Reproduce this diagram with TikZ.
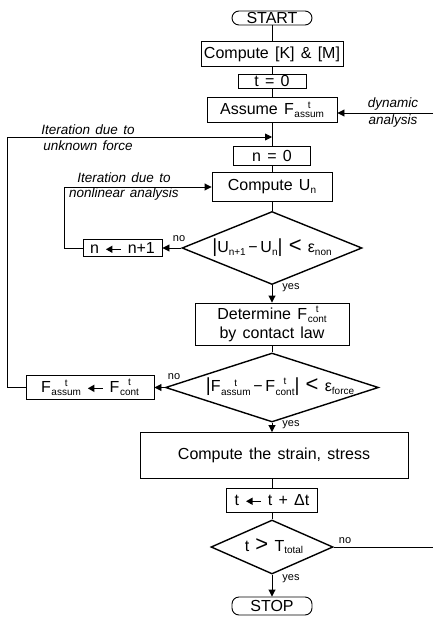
\documentclass[tikz,border=0pt]{standalone}
\usepackage{fontspec}
\setmainfont{Liberation Sans}[WordSpace=1.4]
\usetikzlibrary{arrows.meta,shapes.geometric}
\newcommand\mainsz{\fontsize{16}{19}\selectfont}
\newcommand\subsz{\fontsize{10}{10}\selectfont}
\newcommand\lblsz{\fontsize{13.5}{16}\selectfont\itshape}
\newcommand\sbx[1]{\raisebox{-2.7pt}{\subsz #1}}
\newcommand\Fst[1]{F\kern0.6pt\raisebox{-3.2pt}{\shortstack{\subsz t\\[0.6pt]\subsz #1}}}
\newcommand\bigrel[1]{{\fontsize{22}{22}\selectfont #1}}
\newcommand\vbar{{\fontsize{19}{19}\selectfont |}}
\newcommand\larrow{\tikz[baseline={(0pt,-4.2pt)}]\draw[line width=1.3pt,-{Triangle[length=6.5pt,width=7pt]}] (15pt,0pt) -- (0pt,0pt);}
\tikzset{
  box/.style={draw, line width=0.9pt, rectangle, inner sep=0pt, align=center, font=\mainsz},
  term/.style={draw, line width=0.9pt, rectangle, rounded corners=7pt, inner sep=0pt, font=\mainsz},
  dia/.style={draw, diamond, line width=1.4pt, inner sep=0pt},
  diatext/.style={inner sep=0pt, font=\mainsz},
  conn/.style={line width=0.9pt},
  arr/.style={conn, -{Triangle[length=7pt,width=7pt]}},
  lab/.style={font=\lblsz, align=center, inner sep=0pt},
  yn/.style={font=\fontsize{11}{12}\selectfont, inner sep=0pt}
}
\begin{document}
\begin{tikzpicture}[x=1pt,y=-1pt]
\fill[white] (0,0) rectangle (433,617);
\useasboundingbox (0,0) rectangle (433,617);

% main column
\node[term, minimum width=80pt, minimum height=14pt] (start) at (272,18) {START};
\node[box, minimum width=142pt, minimum height=25pt] (km) at (272,54) {Compute [K] \& [M]};
\node[box, minimum width=68pt, minimum height=14pt] (t0) at (272,81) {t = 0};
\node[box, minimum width=130pt, minimum height=25pt] (assume) at (272,110) {Assume \Fst{assum}};
\node[box, minimum width=77pt, minimum height=19pt] (n0) at (272,156) {n = 0};
\node[box, minimum width=120pt, minimum height=29pt] (cu) at (272,187) {Compute U\sbx{n}};
\node[dia, minimum width=180pt, minimum height=73pt] (d1) at (272,248) {};
\node[diatext] (d1t) at (272,248) {\vbar U\sbx{n+1}\,−\,U\sbx{n}\vbar\ \bigrel{<}\ ε\sbx{non}};
\node[box, minimum width=79pt, minimum height=17pt] (nn) at (122.5,248) {n \larrow\ n+1};
\node[box, minimum width=154pt, minimum height=42pt] (det) at (272,324) {Determine \Fst{cont}\\[0pt]by contact law};
\node[dia, minimum width=213pt, minimum height=69pt] (d2) at (272,387.5) {};
\node[diatext] (d2t) at (280,387) {\vbar\Fst{assum}\,−\,\Fst{cont}\vbar\ \bigrel{<} ε\sbx{force}};
\node[box, minimum width=128pt, minimum height=24pt] (fa) at (90,387.5) {\Fst{assum} \larrow\ \Fst{cont}};
\node[box, minimum width=268pt, minimum height=46pt] (strain) at (274,455.5) {Compute the strain, stress};
\node[box, minimum width=91pt, minimum height=24pt] (tt) at (272,500) {t \larrow\ t + Δt};
\node[dia, minimum width=122pt, minimum height=54pt] (d3) at (272,547) {};
\node[diatext] (d3t) at (274,546) {t \bigrel{>} T\sbx{total}};
\node[term, minimum width=80pt, minimum height=18pt] (stop) at (272,606) {STOP};

% labels
\node[lab] (lunk) at (88,138) {Iteration due to\\unknown force};
\node[lab] (lnon) at (124,187) {Iteration due to\\[-1pt]nonlinear analysis};
\node[lab] (ldyn) at (393,113) {dynamic\\[1pt]analysis};
\node[yn] (no1) at (179,239) {no};
\node[yn] (no2) at (174,377) {no};
\node[yn] (no3) at (345,541) {no};
\node[yn] (yes1) at (291,288) {yes};
\node[yn] (yes2) at (291,425) {yes};
\node[yn] (yes3) at (291,579) {yes};

% free ends
\coordinate (dynR) at (433,113);
\coordinate (noR) at (433,547);
\coordinate (junk) at (272,137);

% connectors
\draw[conn] (start) -- (km);
\draw[conn] (km) -- (t0);
\draw[conn] (t0) -- (assume);
\draw[conn] (assume) -- (n0);
\draw[conn] (n0) -- (cu);
\draw[conn] (cu) -- (d1);
\draw[arr] (d1) -- (det);
\draw[conn] (det) -- (d2);
\draw[arr] (d2.south) -- (d2.south |- strain.north);
\draw[conn] (strain.south -| tt.north) -- (tt);
\draw[conn] (tt) -- (d3);
\draw[arr] (d3) -- (stop);
\draw[arr] (d1.west) -- (nn.east);
\draw[arr] (nn.west) -- ++(-18,0) |- (cu.west);
\draw[arr] (d2.west) -- (fa.east);
\draw[arr] (fa.west) -- ++(-18,0) |- (junk);
\draw[arr] (dynR) -- (dynR -| assume.east);
\draw[conn] (d3.east) -- (noR);
\end{tikzpicture}
\end{document}
